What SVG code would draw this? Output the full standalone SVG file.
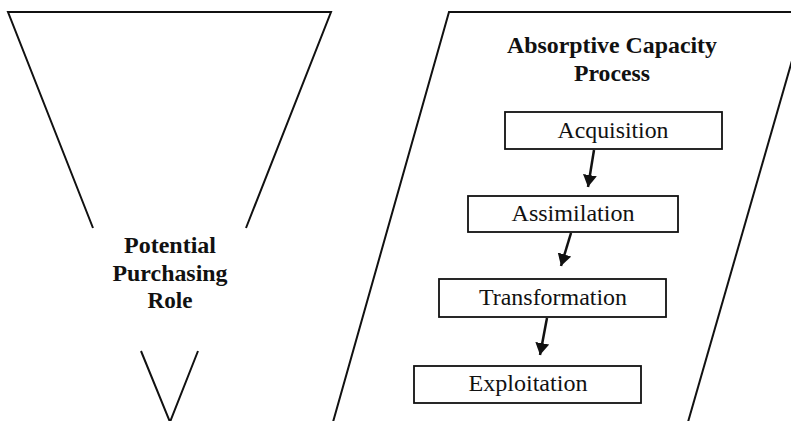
<svg xmlns="http://www.w3.org/2000/svg" width="791" height="421" viewBox="0 0 791 421">
<defs>
<style>
.ln{fill:none;stroke:#111;stroke-width:2;}
.box{fill:#fff;stroke:#111;stroke-width:1.8;}
.bt{font-family:'Liberation Serif','Times New Roman',serif;font-weight:700;font-size:23px;fill:#111;text-anchor:middle;}
.t{font-family:'Liberation Serif','Times New Roman',serif;font-size:22.5px;fill:#111;text-anchor:middle;}
.cn{fill:none;stroke:#111;stroke-width:2.5;marker-end:url(#ah);}
</style>
<marker id="ah" markerUnits="userSpaceOnUse" viewBox="0 0 12 14" refX="12" refY="7" markerWidth="12" markerHeight="14" orient="auto">
<path d="M0,0 L12,7 L0,14 z" fill="#111"/>
</marker>
</defs>
<rect width="791" height="421" fill="#fff"/>
<g id="funnel">
<polyline class="ln" points="93,228 8,12 331,12 246,228"/>
<polyline class="ln" points="141,351 170,422 198,351"/>
<text class="bt" x="170" y="253" textLength="92" lengthAdjust="spacingAndGlyphs">Potential</text>
<text class="bt" x="170" y="281" textLength="115" lengthAdjust="spacingAndGlyphs">Purchasing</text>
<text class="bt" x="170" y="308" textLength="45" lengthAdjust="spacingAndGlyphs">Role</text>
</g>
<g id="process">
<polyline class="ln" points="333,422 449,12 810,12"/>
<line class="ln" x1="806" y1="12" x2="688" y2="422"/>
<text class="bt" x="612" y="53" textLength="210" lengthAdjust="spacingAndGlyphs">Absorptive Capacity</text>
<text class="bt" x="612" y="81" textLength="76" lengthAdjust="spacingAndGlyphs">Process</text>
</g>
<g id="acquisition">
<rect class="box" x="505" y="112" width="217" height="37"/>
<text class="t" x="613" y="138" textLength="111" lengthAdjust="spacingAndGlyphs">Acquisition</text>
</g>
<g id="assimilation">
<rect class="box" x="468" y="196" width="210" height="36"/>
<text class="t" x="573" y="221" textLength="123" lengthAdjust="spacingAndGlyphs">Assimilation</text>
</g>
<g id="transformation">
<rect class="box" x="439" y="279" width="227" height="38"/>
<text class="t" x="553" y="305" textLength="148" lengthAdjust="spacingAndGlyphs">Transformation</text>
</g>
<g id="exploitation">
<rect class="box" x="414" y="366" width="227" height="37"/>
<text class="t" x="528" y="391" textLength="119" lengthAdjust="spacingAndGlyphs">Exploitation</text>
</g>
<g id="connectors">
<line class="cn" x1="594" y1="150" x2="588" y2="187"/>
<line class="cn" x1="571" y1="233" x2="561" y2="266"/>
<line class="cn" x1="547" y1="318" x2="540" y2="355"/>
</g>
</svg>
